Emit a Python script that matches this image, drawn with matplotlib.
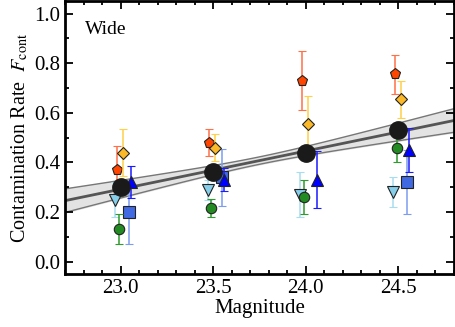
import matplotlib.pyplot as plt
import numpy as np
from matplotlib.ticker import MultipleLocator

plt.rcParams['font.family'] = 'Liberation Serif'
plt.rcParams['mathtext.fontset'] = 'stix'

mags = np.array([23.0, 23.5, 24.0, 24.5])

# mean contamination (big black points)
mean_val = [0.30, 0.36, 0.44, 0.53]

# individual estimates: values and symmetric errors
pent_val = [0.37, 0.48, 0.73, 0.755]
pent_err = [0.095, 0.055, 0.12, 0.08]
diam_val = [0.44, 0.46, 0.555, 0.655]
diam_err = [0.095, 0.055, 0.115, 0.075]
dtri_val = [0.25, 0.29, 0.27, 0.28]
dtri_err = [0.07, 0.04, 0.09, 0.06]
gcir_val = [0.13, 0.215, 0.26, 0.46]
gcir_err = [0.06, 0.037, 0.07, 0.058]
btri_val = [0.32, 0.33, 0.33, 0.45]
btri_err = [0.065, 0.047, 0.115, 0.09]
sq_val = [0.20, 0.34, np.nan, 0.32]
sq_err = [0.13, 0.115, np.nan, 0.13]

# linear fit band half-width (center, slope term)
band_c = 0.015
band_s = 0.043

fig = plt.figure(figsize=(4.56, 3.27), dpi=100)
ax = fig.add_axes([0.1425, 0.1621, 0.8531, 0.8339])

# fit to mean points
b, a = np.polyfit(mags - 23.75, mean_val, 1)
xf = np.linspace(22.6, 24.9, 100)
yf = a + b * (xf - 23.75)
hw = np.sqrt(band_c**2 + (band_s * (xf - 23.75))**2)
ax.fill_between(xf, yf - hw, yf + hw, color='#e3e3e3', zorder=1)
ax.plot(xf, yf - hw, color='#777777', lw=1.0, zorder=1.5)
ax.plot(xf, yf + hw, color='#777777', lw=1.0, zorder=1.5)
ax.plot(xf, yf, color='#555555', lw=2.0, zorder=1.6)

series = [
    (pent_val, pent_err, -0.02, 'p', 8, '#ff4500', '#ff7048', 3),
    (diam_val, diam_err, 0.012, 'D', 6.5, '#fbb829', '#ffd048', 3.1),
    (dtri_val, dtri_err, -0.03, 'v', 8, '#87ceeb', '#a8dcf0', 3),
    (gcir_val, gcir_err, -0.01, 'o', 7.5, '#228b22', '#2e9b2e', 3),
    (sq_val, sq_err, 0.045, 's', 8, '#4169e1', '#7b9cf0', 2.8),
    (btri_val, btri_err, 0.058, '^', 8.5, '#0000ff', '#1a1aff', 3),
]
for val, err, off, mk, ms, fc, ec, z in series:
    ax.errorbar(mags + off, val, yerr=err, fmt=mk, ms=ms, mfc=fc, mec='#222222',
                mew=0.8, ecolor=ec, elinewidth=1.1, capsize=2.8, capthick=1.1,
                zorder=z)

ax.plot(mags, mean_val, 'o', ms=12.5, color='#1a1a1a', zorder=4)

ax.text(22.81, 0.935, 'Wide', fontsize=14, va='center')

ax.set_xlim(22.7, 24.8)
ax.set_ylim(-0.05, 1.05)
ax.xaxis.set_major_locator(MultipleLocator(0.5))
ax.xaxis.set_minor_locator(MultipleLocator(0.1))
ax.yaxis.set_major_locator(MultipleLocator(0.2))
ax.yaxis.set_minor_locator(MultipleLocator(0.1))
ax.tick_params(which='both', direction='in', top=True, right=True, labelsize=15, width=1.3)
ax.tick_params(which='major', length=6)
ax.tick_params(which='minor', length=3)
for s in ax.spines.values():
    s.set_linewidth(2.0)

ax.set_xlabel('Magnitude', fontsize=15, labelpad=1)
ax.set_ylabel(r'Contamination Rate  $F_{\rm cont}$', fontsize=14.5, labelpad=3)

fig.savefig('out.png', dpi=100)
